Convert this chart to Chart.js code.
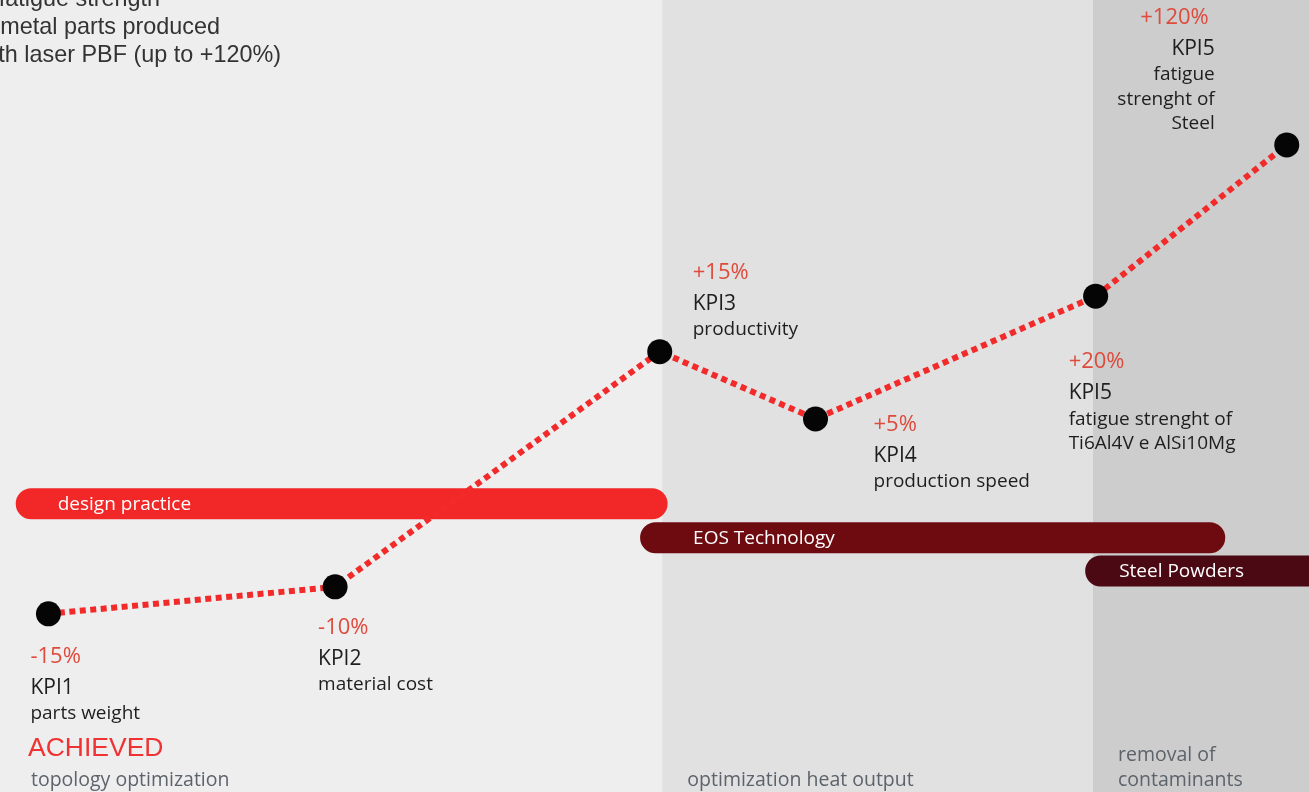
<!DOCTYPE html>
<html>
<head>
<meta charset="utf-8">
<script src="https://cdn.jsdelivr.net/npm/chart.js@4.4.1/dist/chart.umd.min.js"></script>
<style>
  html, body { margin: 0; padding: 0; background: #eeeeee; overflow: hidden; }
  canvas { display: block; }
</style>
</head>
<body>
<canvas id="kpiChart" width="1309" height="792"></canvas>
<script>
// KPI milestones (x = position along the roadmap, y = level, both 0-100)
const kpiNames = ['KPI1', 'KPI2', 'KPI3', 'KPI4', 'KPI5', 'KPI5'];
const kpiPct = ['-15%', '-10%', '+15%', '+5%', '+20%', '+120%'];
const kpiDesc = [
    ['parts weight'],
    ['material cost'],
    ['productivity'],
    ['production speed'],
    ['fatigue strenght of', 'Ti6Al4V e AlSi10Mg'],
    ['fatigue', 'strenght of', 'Steel']
];
const kpiX = [3.7, 25.6, 50.4, 62.3, 83.7, 98.3];
const kpiY = [22.5, 25.9, 55.6, 47.1, 62.6, 81.7];

// phase bars
const barLabels = ['design practice', 'EOS Technology', 'Steel Powders'];
const barStart = [1.2, 48.9, 82.9];
const barEnd = [51.0, 93.6, 106];
const barLevel = [36.4, 32.1, 27.9];

// background zones
const zoneEdges = [0, 50.6, 83.5, 100];
const zoneNotes = [['topology optimization'], ['optimization heat output'], ['removal of', 'contaminants']];

// styles
const zoneColors = ['#eeeeee', '#e1e1e1', '#cdcdcd'];
const barColors = ['#f22727', '#6d0b10', '#4b0913'];
const barTextPad = [42, 53, 34];
const labelPlace = [
    { dx: -18, dy: 43, align: 'left' },
    { dx: -17, dy: 41, align: 'left' },
    { dx: 33, dy: -79, align: 'left' },
    { dx: 58, dy: 6, align: 'left' },
    { dx: -27, dy: 66, align: 'left' },
    { dx: -72, dy: -127, align: 'right' }
];
const labelFont = '"Open Sans", "Noto Sans", sans-serif';

const decorPlugin = {
    id: 'decor',
    beforeDatasetsDraw(chart) {
        const ctx = chart.ctx;
        const xs = chart.scales.x, ys = chart.scales.y;
        ctx.save();
        // zones
        for (let i = 0; i < zoneColors.length; i++) {
            const x0 = xs.getPixelForValue(zoneEdges[i]);
            const x1 = xs.getPixelForValue(zoneEdges[i + 1]);
            ctx.fillStyle = zoneColors[i];
            ctx.fillRect(x0, 0, x1 - x0 + 1, chart.height);
        }
        // zone notes at bottom
        ctx.fillStyle = '#5d636b';
        ctx.font = '19.5px ' + labelFont;
        ctx.textBaseline = 'middle';
        ctx.textAlign = 'left';
        zoneNotes.forEach((lines, i) => {
            const x = xs.getPixelForValue(zoneEdges[i]) + (i === 0 ? 31 : 25);
            lines.forEach((t, j) => {
                ctx.fillText(t, x, chart.height - 12 - (lines.length - 1 - j) * 25);
            });
        });
        // phase bars
        barLabels.forEach((label, i) => {
            const x0 = xs.getPixelForValue(barStart[i]);
            const x1 = xs.getPixelForValue(barEnd[i]);
            const yc = ys.getPixelForValue(barLevel[i]);
            ctx.fillStyle = barColors[i];
            ctx.beginPath();
            ctx.roundRect(x0, yc - 15.5, x1 - x0, 31, 15.5);
            ctx.fill();
            ctx.fillStyle = '#ffffff';
            ctx.font = '19px ' + labelFont;
            ctx.fillText(label, x0 + barTextPad[i], yc + 1);
        });
        ctx.restore();
    },
    afterDatasetsDraw(chart) {
        const ctx = chart.ctx;
        const meta = chart.getDatasetMeta(0);
        ctx.save();
        ctx.textBaseline = 'middle';
        meta.data.forEach((pt, i) => {
            const p = labelPlace[i];
            const x = pt.x + p.dx;
            let y = pt.y + p.dy;
            ctx.textAlign = p.align;
            ctx.fillStyle = '#de4b3c';
            ctx.font = '22px ' + labelFont;
            ctx.fillText(kpiPct[i], p.align === 'right' ? x - 6 : x, y);
            y += 31;
            ctx.fillStyle = '#1e1e1e';
            ctx.font = '21px ' + labelFont;
            ctx.fillText(kpiNames[i], x, y);
            y += 26;
            ctx.font = '19px ' + labelFont;
            kpiDesc[i].forEach(t => {
                ctx.fillText(t, x, y);
                y += 24.5;
            });
        });
        // title (cut at the top-left corner)
        ctx.fillStyle = '#333333';
        ctx.font = '23.4px "Liberation Sans", Arial, sans-serif';
        ctx.textAlign = 'right';
        ctx.fillText('Improved fatigue strength', 160, 0);
        ctx.fillText('of metal parts produced', 220, 28);
        ctx.fillText('with laser PBF (up to +120%)', 281, 56);
        // achieved
        ctx.textAlign = 'left';
        ctx.fillStyle = '#f03232';
        ctx.font = '26.5px "Liberation Sans", Arial, sans-serif';
        ctx.fillText('ACHIEVED', 28, 749);
        ctx.restore();
    }
};

const ctx = document.getElementById('kpiChart').getContext('2d');
const kpiChart = new Chart(ctx, {
    type: 'line',
    data: {
        datasets: [{
            data: kpiX.map((x, i) => ({ x: x, y: kpiY[i] })),
            borderColor: '#f22a2a',
            borderWidth: 6,
            borderDash: [6, 4.5],
            pointRadius: 12.5,
            pointBackgroundColor: '#050505',
            pointBorderWidth: 0,
            tension: 0,
            clip: false
        }]
    },
    options: {
        responsive: false,
        animation: false,
        layout: { padding: 0, autoPadding: false },
        plugins: { legend: { display: false }, tooltip: { enabled: false } },
        scales: {
            x: { type: 'linear', min: 0, max: 100, display: false },
            y: { type: 'linear', min: 0, max: 100, display: false }
        }
    },
    plugins: [decorPlugin]
});
</script>
</body>
</html>
